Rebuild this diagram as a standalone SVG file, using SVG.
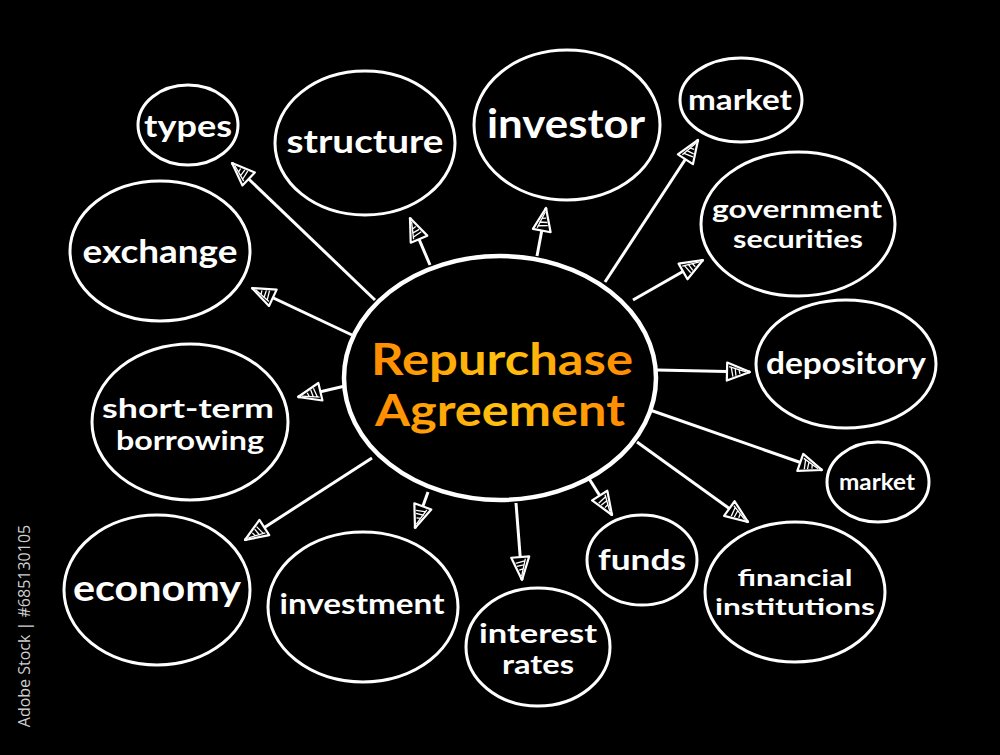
<svg xmlns="http://www.w3.org/2000/svg" width="1000" height="755" viewBox="0 0 1000 755">
<defs>
<style>
.n{fill:#000;stroke:#fff;stroke-width:3}
.t{fill:#fff;font-family:"Lato","Open Sans",sans-serif;font-weight:700;text-anchor:middle}
.c{stroke:#fff;stroke-width:3;fill:none}
</style>
<linearGradient id="og" x1="0" y1="0" x2="1" y2="0">
<stop offset="0" stop-color="#FF8A00"/>
<stop offset="0.5" stop-color="#FFC20E"/>
<stop offset="1" stop-color="#FF8A00"/>
</linearGradient>
<marker id="ah" viewBox="0 0 28 24" refX="26" refY="12" markerWidth="28" markerHeight="24" markerUnits="userSpaceOnUse" orient="auto">
<path d="M3,3 L26,12 L3,21 Z" fill="#000" stroke="#fff" stroke-width="2.2" stroke-linejoin="round"/>
<path d="M7,7 L9,17 M11,8 L12,16 M15,10 L16,14 M5,7 L22,12" stroke="#fff" stroke-width="1.3" fill="none"/>
</marker>
</defs>
<rect width="1000" height="755" fill="#000"/>
<g id="connectors">
<line class="c" x1="375" y1="300" x2="232" y2="163" marker-end="url(#ah)"/>
<line class="c" x1="430" y1="265" x2="410" y2="218" marker-end="url(#ah)"/>
<line class="c" x1="537" y1="256" x2="546" y2="208" marker-end="url(#ah)"/>
<line class="c" x1="605" y1="282" x2="698" y2="140" marker-end="url(#ah)"/>
<line class="c" x1="633" y1="300" x2="703" y2="260" marker-end="url(#ah)"/>
<line class="c" x1="657" y1="370" x2="750" y2="372" marker-end="url(#ah)"/>
<line class="c" x1="650" y1="410" x2="822" y2="470" marker-end="url(#ah)"/>
<line class="c" x1="637" y1="442" x2="748" y2="522" marker-end="url(#ah)"/>
<line class="c" x1="588" y1="477" x2="612" y2="515" marker-end="url(#ah)"/>
<line class="c" x1="516" y1="503" x2="522" y2="580" marker-end="url(#ah)"/>
<line class="c" x1="428" y1="492" x2="415" y2="528" marker-end="url(#ah)"/>
<line class="c" x1="372" y1="458" x2="245" y2="540" marker-end="url(#ah)"/>
<line class="c" x1="345" y1="386" x2="298" y2="397" marker-end="url(#ah)"/>
<line class="c" x1="352" y1="335" x2="252" y2="288" marker-end="url(#ah)"/>
</g>
<g id="center">
<ellipse cx="500" cy="378" rx="156" ry="122" fill="#000" stroke="#fff" stroke-width="4.5"/>
<text x="502" y="375" font-family="Lato,'Open Sans',sans-serif" font-weight="700" font-size="44" text-anchor="middle" fill="url(#og)" textLength="262" lengthAdjust="spacingAndGlyphs">Repurchase</text>
<text x="500" y="426" font-family="Lato,'Open Sans',sans-serif" font-weight="700" font-size="44" text-anchor="middle" fill="url(#og)" textLength="250" lengthAdjust="spacingAndGlyphs">Agreement</text>
</g>
<g id="types"><ellipse class="n" cx="188" cy="125" rx="50" ry="40"/><text class="t" x="188" y="137" font-size="30" textLength="88" lengthAdjust="spacingAndGlyphs">types</text></g>
<g id="structure"><ellipse class="n" cx="365" cy="143" rx="90" ry="72"/><text class="t" x="365" y="153" font-size="32" textLength="157" lengthAdjust="spacingAndGlyphs">structure</text></g>
<g id="investor"><ellipse class="n" cx="567" cy="125" rx="93" ry="75"/><text class="t" x="566" y="138" font-size="40" textLength="158" lengthAdjust="spacingAndGlyphs">investor</text></g>
<g id="market1"><ellipse class="n" cx="741" cy="100" rx="61" ry="42"/><text class="t" x="740" y="110" font-size="28" textLength="104" lengthAdjust="spacingAndGlyphs">market</text></g>
<g id="govsec"><ellipse class="n" cx="798" cy="224" rx="97" ry="72"/><text class="t" x="797" y="218" font-size="24" textLength="170" lengthAdjust="spacingAndGlyphs">government</text><text class="t" x="798" y="248" font-size="24" textLength="130" lengthAdjust="spacingAndGlyphs">securities</text></g>
<g id="depository"><ellipse class="n" cx="846" cy="364" rx="90" ry="64"/><text class="t" x="846" y="374" font-size="30" textLength="160" lengthAdjust="spacingAndGlyphs">depository</text></g>
<g id="market2"><ellipse class="n" cx="878" cy="482" rx="51" ry="40"/><text class="t" x="877" y="490" font-size="22" textLength="76" lengthAdjust="spacingAndGlyphs">market</text></g>
<g id="financial"><ellipse class="n" cx="795" cy="592" rx="90" ry="70"/><text class="t" x="795" y="586" font-size="23" textLength="115" lengthAdjust="spacingAndGlyphs">financial</text><text class="t" x="795" y="615" font-size="23" textLength="160" lengthAdjust="spacingAndGlyphs">institutions</text></g>
<g id="funds"><ellipse class="n" cx="642" cy="560" rx="55" ry="45"/><text class="t" x="642" y="570" font-size="28" textLength="88" lengthAdjust="spacingAndGlyphs">funds</text></g>
<g id="interest"><ellipse class="n" cx="538" cy="647" rx="72" ry="59"/><text class="t" x="538" y="643" font-size="26" textLength="118" lengthAdjust="spacingAndGlyphs">interest</text><text class="t" x="538" y="674" font-size="26" textLength="72" lengthAdjust="spacingAndGlyphs">rates</text></g>
<g id="investment"><ellipse class="n" cx="363" cy="607" rx="95" ry="75"/><text class="t" x="362" y="614" font-size="28" textLength="165" lengthAdjust="spacingAndGlyphs">investment</text></g>
<g id="economy"><ellipse class="n" cx="157" cy="590" rx="93" ry="75"/><text class="t" x="157" y="601" font-size="36" textLength="168" lengthAdjust="spacingAndGlyphs">economy</text></g>
<g id="shortterm"><ellipse class="n" cx="190" cy="422" rx="98" ry="78"/><text class="t" x="188" y="418" font-size="26" textLength="172" lengthAdjust="spacingAndGlyphs">short-term</text><text class="t" x="190" y="450" font-size="26" textLength="148" lengthAdjust="spacingAndGlyphs">borrowing</text></g>
<g id="exchange"><ellipse class="n" cx="160" cy="251" rx="90" ry="70"/><text class="t" x="160" y="263" font-size="32" textLength="155" lengthAdjust="spacingAndGlyphs">exchange</text></g>
<text x="30" y="626" transform="rotate(-90 30 626)" font-family="'Open Sans',sans-serif" font-size="16" fill="#cfcfcf" text-anchor="middle">Adobe Stock | #685130105</text>
</svg>
